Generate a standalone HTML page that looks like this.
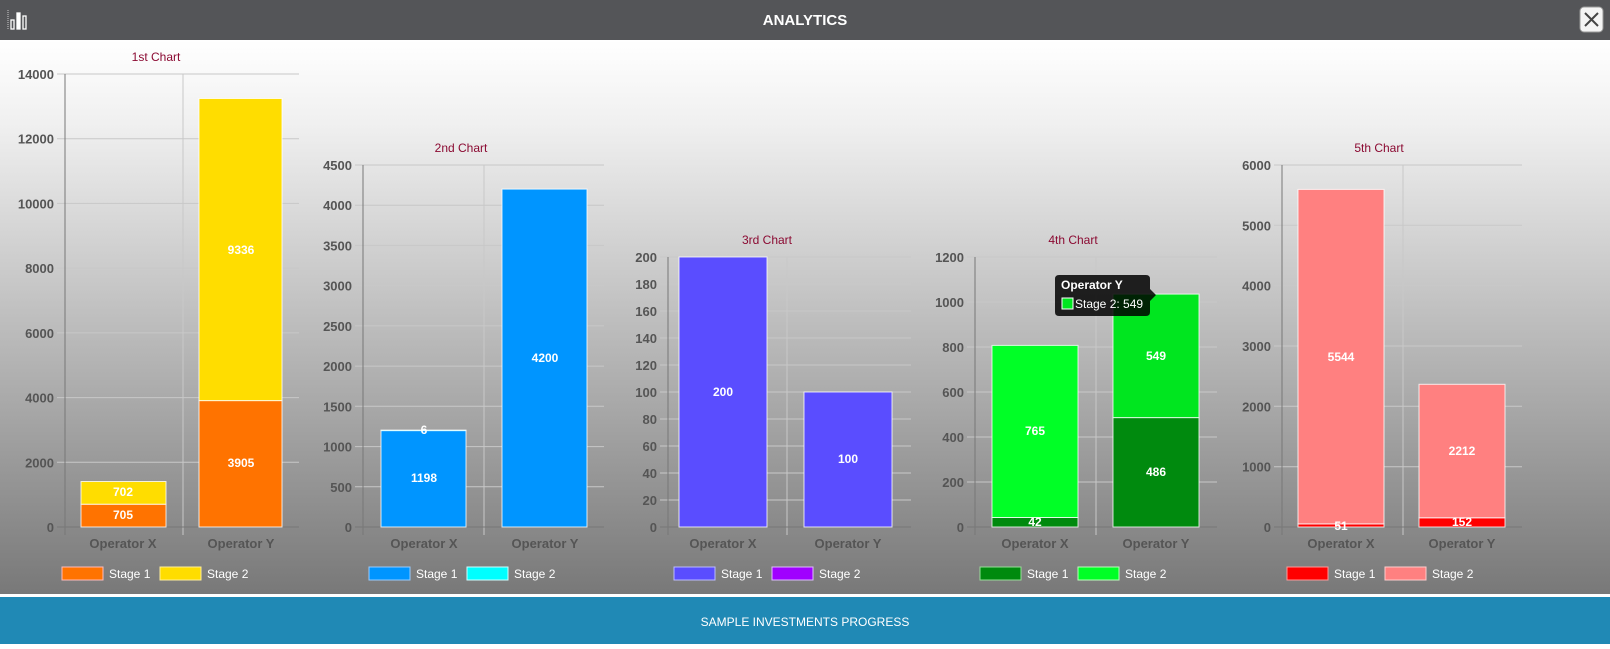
<!DOCTYPE html>
<html><head><meta charset="utf-8"><style>
body{margin:0;width:1610px;height:644px;overflow:hidden;font-family:"Liberation Sans",Arial,sans-serif}
</style></head><body>
<svg width="1610" height="644" xmlns="http://www.w3.org/2000/svg" font-family="Liberation Sans, Arial, sans-serif">
<defs><linearGradient id="bg" x1="0" y1="0" x2="0" y2="1"><stop offset="0" stop-color="#ffffff"/><stop offset="0.15" stop-color="#f0f0f0"/><stop offset="1" stop-color="#787878"/></linearGradient></defs>
<rect x="0" y="40" width="1610" height="555" fill="url(#bg)"/>
<rect x="0" y="0" width="1610" height="40" fill="#545558"/>
<g fill="none" stroke="#fff" stroke-width="1.3"><rect x="11" y="20" width="3" height="9"/><rect x="17" y="13" width="3" height="16" fill="#fff"/><rect x="23" y="16" width="3" height="13"/></g>
<line x1="8" y1="10" x2="8" y2="29" stroke="#ccc" stroke-dasharray="1,1"/>
<text x="805" y="25" fill="#fff" font-size="15" font-weight="bold" text-anchor="middle">ANALYTICS</text>
<rect x="1580" y="7" width="23" height="25" rx="4" fill="#f4f4f4" stroke="#999"/>
<path d="M1585 13 L1598 26 M1598 13 L1585 26" stroke="#444" stroke-width="2"/>
<rect x="0" y="594" width="1610" height="3" fill="#fff"/>
<rect x="0" y="597" width="1610" height="47" fill="#2089b5"/>
<text x="805" y="626" fill="#fff" font-size="12" text-anchor="middle">SAMPLE INVESTMENTS PROGRESS</text>

<g font-size="12" fill="#8b0a32" text-anchor="middle">
<text x="156" y="61">1st Chart</text><text x="461" y="152">2nd Chart</text><text x="767" y="244">3rd Chart</text><text x="1073" y="244">4th Chart</text><text x="1379" y="152">5th Chart</text>
</g>

<!-- chart1 -->
<g stroke="#c8c8c8" stroke-width="1">
<path d="M57 74H299M57 138.7H299M57 203.4H299M57 268.1H299M57 332.9H299M57 397.6H299M57 462.3H299M183 74V535"/>
<path d="M355 165H604M355 205.2H604M355 245.4H604M355 285.7H604M355 325.9H604M355 366.1H604M355 406.3H604M355 446.6H604M355 486.8H604M484 165V535"/>
<path d="M660 257H911M660 284H911M660 311H911M660 338H911M660 365H911M660 392H911M660 419H911M660 446H911M660 473H911M660 500H911M787 257V535"/>
<path d="M967 257H1217M967 302H1217M967 347H1217M967 392H1217M967 437H1217M967 482H1217M1096 257V535"/>
<path d="M1274 165H1522M1274 225.3H1522M1274 285.7H1522M1274 346H1522M1274 406.3H1522M1274 466.7H1522M1403 165V535"/>
</g>
<g stroke="#777" stroke-width="1">
<path d="M65 74V535M57 527H299"/><path d="M363 165V535M355 527H604"/><path d="M668 257V535M660 527H911"/><path d="M975 257V535M967 527H1217"/><path d="M1282 165V535M1274 527H1522"/>
</g>
<g font-size="13" font-weight="bold" fill="#555" text-anchor="end">
<text x="54" y="79">14000</text><text x="54" y="143.7">12000</text><text x="54" y="208.4">10000</text><text x="54" y="273.1">8000</text><text x="54" y="337.9">6000</text><text x="54" y="402.6">4000</text><text x="54" y="467.3">2000</text><text x="54" y="532">0</text>
<text x="352" y="170">4500</text><text x="352" y="210.2">4000</text><text x="352" y="250.4">3500</text><text x="352" y="290.7">3000</text><text x="352" y="330.9">2500</text><text x="352" y="371.1">2000</text><text x="352" y="411.3">1500</text><text x="352" y="451.6">1000</text><text x="352" y="491.8">500</text><text x="352" y="532">0</text>
<text x="657" y="262">200</text><text x="657" y="289">180</text><text x="657" y="316">160</text><text x="657" y="343">140</text><text x="657" y="370">120</text><text x="657" y="397">100</text><text x="657" y="424">80</text><text x="657" y="451">60</text><text x="657" y="478">40</text><text x="657" y="505">20</text><text x="657" y="532">0</text>
<text x="964" y="262">1200</text><text x="964" y="307">1000</text><text x="964" y="352">800</text><text x="964" y="397">600</text><text x="964" y="442">400</text><text x="964" y="487">200</text><text x="964" y="532">0</text>
<text x="1271" y="170">6000</text><text x="1271" y="230.3">5000</text><text x="1271" y="290.7">4000</text><text x="1271" y="351">3000</text><text x="1271" y="411.3">2000</text><text x="1271" y="471.7">1000</text><text x="1271" y="532">0</text>
</g>
<g font-size="13" font-weight="bold" fill="#555" text-anchor="middle">
<text x="123" y="548">Operator X</text><text x="241" y="548">Operator Y</text>
<text x="424" y="548">Operator X</text><text x="545" y="548">Operator Y</text>
<text x="723" y="548">Operator X</text><text x="848" y="548">Operator Y</text>
<text x="1035" y="548">Operator X</text><text x="1156" y="548">Operator Y</text>
<text x="1341" y="548">Operator X</text><text x="1462" y="548">Operator Y</text>
</g>

<g stroke="#fff" stroke-opacity="0.8" stroke-width="1">
<rect x="81" y="504.2" width="85" height="22.8" fill="#ff7300"/><rect x="81" y="481.5" width="85" height="22.7" fill="#ffdd00"/>
<rect x="199" y="400.6" width="83" height="126.4" fill="#ff7300"/><rect x="199" y="98.5" width="83" height="302.1" fill="#ffdd00"/>
<rect x="381" y="430.6" width="85" height="96.4" fill="#0095ff"/><rect x="381" y="430.1" width="85" height="0.5" fill="#00ffff"/>
<rect x="502" y="189.1" width="85" height="337.9" fill="#0095ff"/>
<rect x="679" y="257" width="88" height="270" fill="#5a4dff"/>
<rect x="804" y="392" width="88" height="135" fill="#5a4dff"/>
<rect x="992" y="517.5" width="86" height="9.5" fill="#008a0e"/><rect x="992" y="345.4" width="86" height="172.1" fill="#00ff26"/>
<rect x="1113" y="417.6" width="86" height="109.4" fill="#008a0e"/><rect x="1113" y="294.1" width="86" height="123.5" fill="#00e61f"/>
<rect x="1298" y="523.9" width="86" height="3.1" fill="#ff0000"/><rect x="1298" y="189.4" width="86" height="334.5" fill="#ff8080"/>
<rect x="1419" y="517.8" width="86" height="9.2" fill="#ff0000"/><rect x="1419" y="384.3" width="86" height="133.5" fill="#ff8080"/>
</g>
<g font-size="12" font-weight="bold" fill="#fff" text-anchor="middle">
<text x="123" y="519">705</text><text x="123" y="496">702</text><text x="241" y="467">3905</text><text x="241" y="254">9336</text>
<text x="424" y="482">1198</text><text x="424" y="434">6</text><text x="545" y="362">4200</text>
<text x="723" y="396">200</text><text x="848" y="463">100</text>
<text x="1035" y="526">42</text><text x="1035" y="435">765</text><text x="1156" y="476">486</text><text x="1156" y="360">549</text>
<text x="1341" y="530">51</text><text x="1341" y="361">5544</text><text x="1462" y="526">152</text><text x="1462" y="455">2212</text>
</g>

<!-- tooltip -->
<path d="M1059 275H1146Q1150 275 1150 279V289L1156 295L1150 301V312Q1150 316 1146 316H1059Q1055 316 1055 312V279Q1055 275 1059 275Z" fill="#000" fill-opacity="0.85"/>
<text x="1061" y="289" fill="#fff" font-size="12" font-weight="bold">Operator Y</text>
<rect x="1062" y="298" width="11" height="11" fill="#00e61f" stroke="#fff"/>
<text x="1075" y="308" fill="#fff" font-size="12">Stage 2: 549</text>

<!-- legends -->
<g font-size="12" fill="#fff" stroke-width="1">
<rect x="62" y="567" width="41" height="13" fill="#ff7300" stroke="#fbb"/><text x="109" y="578">Stage 1</text><rect x="160" y="567" width="41" height="13" fill="#ffdd00" stroke="#fe9"/><text x="207" y="578">Stage 2</text>
<rect x="369" y="567" width="41" height="13" fill="#0095ff" stroke="#9cf"/><text x="416" y="578">Stage 1</text><rect x="467" y="567" width="41" height="13" fill="#00ffff" stroke="#cff"/><text x="514" y="578">Stage 2</text>
<rect x="674" y="567" width="41" height="13" fill="#5a4dff" stroke="#bbf"/><text x="721" y="578">Stage 1</text><rect x="772" y="567" width="41" height="13" fill="#a000ff" stroke="#dbf"/><text x="819" y="578">Stage 2</text>
<rect x="980" y="567" width="41" height="13" fill="#008a0e" stroke="#9d9"/><text x="1027" y="578">Stage 1</text><rect x="1078" y="567" width="41" height="13" fill="#00ff26" stroke="#bfb"/><text x="1125" y="578">Stage 2</text>
<rect x="1287" y="567" width="41" height="13" fill="#ff0000" stroke="#f99"/><text x="1334" y="578">Stage 1</text><rect x="1385" y="567" width="41" height="13" fill="#ff8080" stroke="#fcc"/><text x="1432" y="578">Stage 2</text>
</g>
</svg>
</body></html>
